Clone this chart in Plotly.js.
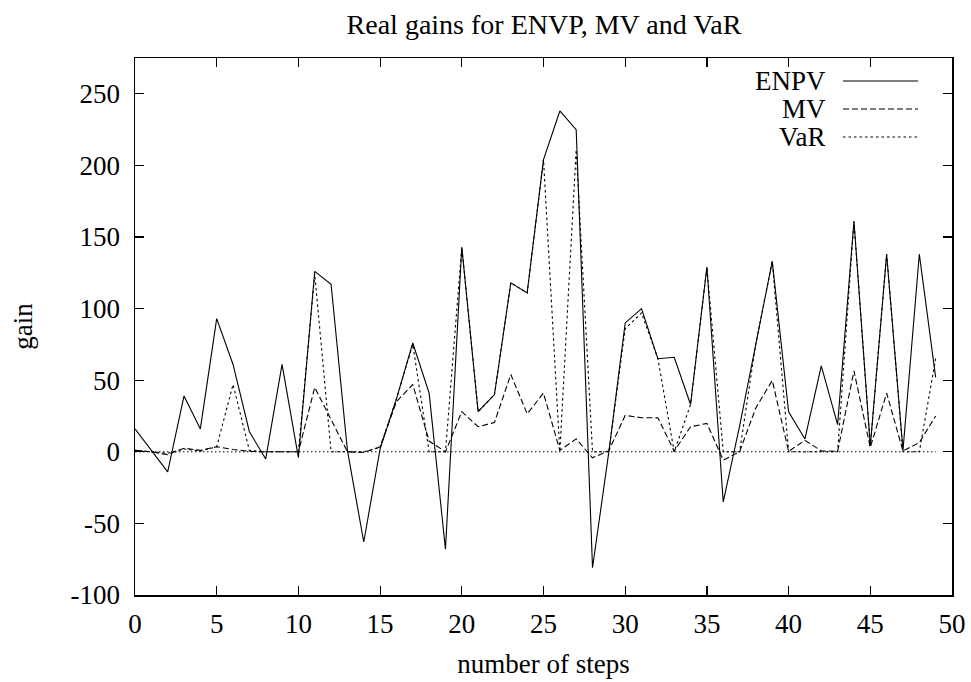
<!DOCTYPE html>
<html>
<head>
<meta charset="utf-8">
<script src="https://cdn.plot.ly/plotly-3.0.1.min.js"></script>
<style>html,body{margin:0;padding:0;background:#fff;}#chart{width:971px;height:682px;}</style>
</head>
<body>
<div id="chart"></div>
<script>
const steps = Array.from({length: 50}, (_, i) => i);
const enpv = [16, 1, -14, 39, 16, 93, 61, 14, -5, 61,
              -4, 126, 117, 1, -63, 2, 37, 76, 41, -68,
              143, 28, 40, 118, 111, 204, 238, 225, -81, 0,
              90, 100, 65, 66, 33, 129, -35, 18, 76, 133,
              28, 9, 60, 19, 161, 4, 138, 1, 138, 52];
const mv = [1, 0, -2, 2.5, 1, 3.5, 1.6, 0.3, 0, 0,
            0, 45, 23, 0, -0.5, 3.5, 35, 47, 7.5, 0,
            28, 17.5, 20.5, 54, 26.5, 41, 1, 9, -4.2, 0.8,
            25.4, 23.8, 23.7, 0.5, 17.5, 19.8, -5.8, 0, 30.8, 49.8,
            0.3, 8, 0.7, 0.3, 56.5, 3, 41, 0.5, 6.5, 25];
const varr = [1, 0, -1, 2, 0.5, 3.5, 47, 1, 0, 0,
              0, 124, 0, 0, 0, 3, 37, 75, 0, 0,
              143, 28, 40, 118, 111, 204, 0, 211, 0, 0,
              86, 97, 65, 0, 33, 129, 0, 0, 76, 133,
              0, 0, 0, 0, 161, 4, 138, 0, 0, 65];
const zeroLine = steps.map(() => 0);
const seriesNames = ['ENPV', 'MV', 'VaR'];
const xTicks = [0, 5, 10, 15, 20, 25, 30, 35, 40, 45, 50];
const yTicks = [-100, -50, 0, 50, 100, 150, 200, 250];

const FONT = '"Liberation Serif", "Times New Roman", Times, serif';
const dashes = ['solid', '6px,3px', '2.5px,3px'];
const data = [
  {x: steps, y: zeroLine, mode: 'lines', line: {color: '#000', width: 1, dash: '1.5px,2.5px'}, showlegend: false, hoverinfo: 'skip'},
  {x: steps, y: enpv, name: seriesNames[0], mode: 'lines', line: {color: '#000', width: 1.1, dash: dashes[0]}},
  {x: steps, y: mv, name: seriesNames[1], mode: 'lines', line: {color: '#000', width: 1.1, dash: dashes[1]}},
  {x: steps, y: varr, name: seriesNames[2], mode: 'lines', line: {color: '#000', width: 1.1, dash: dashes[2]}}
];

// custom gnuplot-style key (text, then sample line)
const L = 135, R = 952, T = 58, B = 595;
const px = v => (v - L) / (R - L);
const py = v => (B - v) / (B - T);
const keyY = [81, 109, 137];
const annotations = seriesNames.map((n, i) => ({
  xref: 'paper', yref: 'paper', x: px(828), y: py(keyY[i]), xanchor: 'right', yanchor: 'middle',
  text: n, showarrow: false, font: {family: FONT, size: 27, color: '#000'}
}));
const shapes = seriesNames.map((n, i) => ({
  type: 'line', xref: 'paper', yref: 'paper', x0: px(843), x1: px(918), y0: py(keyY[i]), y1: py(keyY[i]),
  line: {color: '#000', width: 1.1, dash: dashes[i]}
}));

const axisCommon = {
  showgrid: false, zeroline: false, showline: true, linecolor: '#000', linewidth: 1.5,
  mirror: 'ticks', ticks: 'inside', ticklen: 9, tickwidth: 1.2, tickcolor: '#000',
  tickfont: {family: FONT, size: 27, color: '#000'}
};

const layout = {
  width: 971, height: 682,
  margin: {l: L, r: 971 - R, t: T, b: 682 - B},
  paper_bgcolor: '#fff', plot_bgcolor: '#fff',
  showlegend: false,
  title: {text: 'Real gains for ENVP, MV and VaR', font: {family: FONT, size: 28, color: '#000'},
          x: px(544), xref: 'paper', xanchor: 'center', y: 1 - 24 / 682, yref: 'container', yanchor: 'middle'},
  xaxis: Object.assign({}, axisCommon, {range: [0, 50], tickvals: xTicks, ticktext: xTicks.map(String),
          ticklabelstandoff: 4,
          title: {text: 'number of steps', font: {family: FONT, size: 27, color: '#000'}, standoff: 16}}),
  yaxis: Object.assign({}, axisCommon, {range: [-100, 275], tickvals: yTicks, ticktext: yTicks.map(String),
          ticklabelstandoff: 8,
          title: {text: 'gain', font: {family: FONT, size: 27, color: '#000'}, standoff: 30}}),
  annotations: annotations,
  shapes: shapes
};

Plotly.newPlot('chart', data, layout, {displayModeBar: false, staticPlot: true});
</script>
</body>
</html>
